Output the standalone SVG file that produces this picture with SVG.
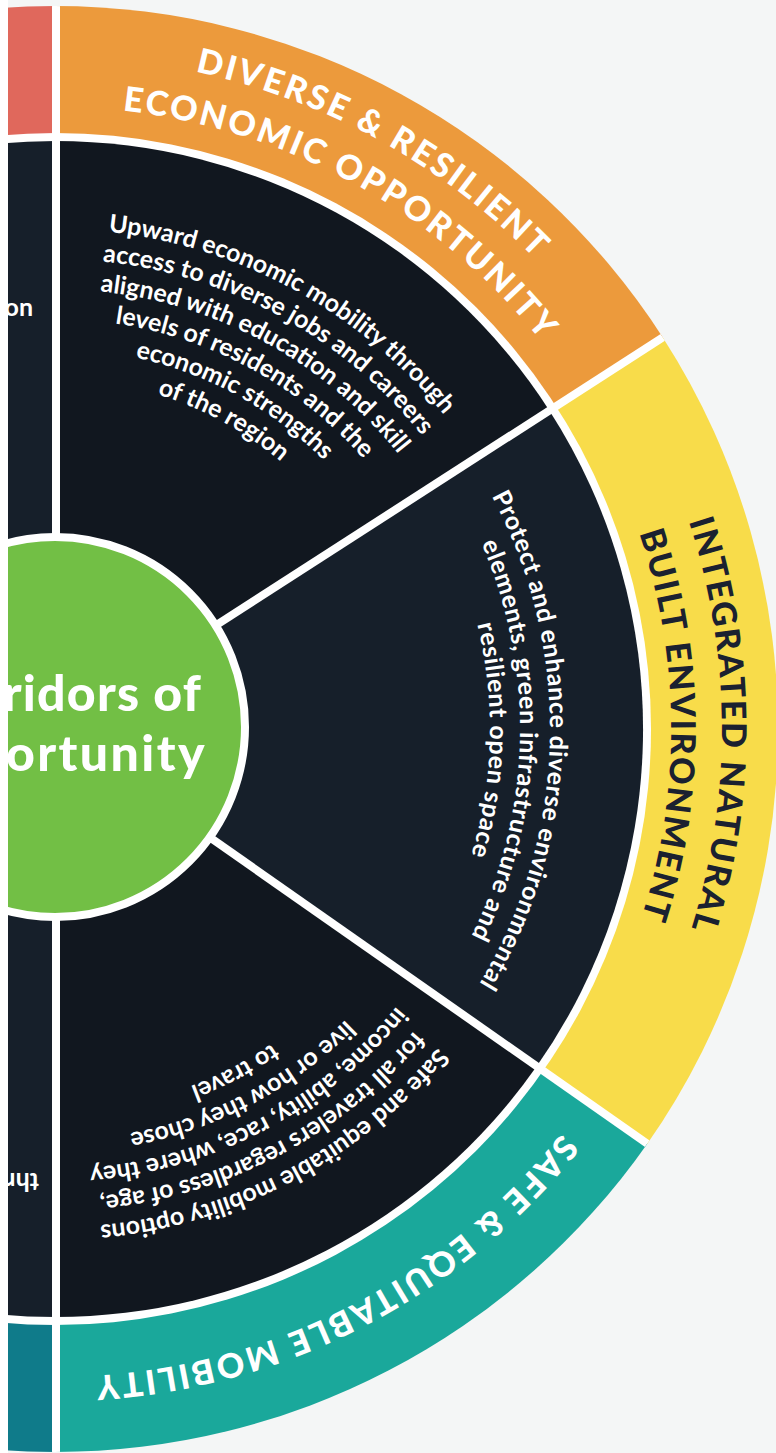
<svg xmlns="http://www.w3.org/2000/svg" width="776" height="1453" viewBox="0 0 776 1453">
<defs>
<style>
.ring{font-family:Lato,"Liberation Sans",sans-serif;font-weight:900;font-size:34px;letter-spacing:2.6px}
.w{fill:#fff}
.k{fill:#1b2130;letter-spacing:2.2px}
.body{font-family:Lato,"Liberation Sans",sans-serif;font-weight:700;font-size:25px;fill:#fff}
.hub{font-family:Lato,"Liberation Sans",sans-serif;font-weight:900;font-size:50px;fill:#fff;letter-spacing:1.2px}
.hub2{letter-spacing:2.4px}
.div{stroke:#fff;stroke-width:8;fill:none}
.d1{fill:#11171f}
.d2{fill:#161f2a}
</style>
<clipPath id="wheel"><circle cx="55" cy="729" r="723"/></clipPath>
<path id="a672" d="M-514.8 -432 A672 672 0 0 1 514.8 -432"/>
<path id="a622" d="M-476.5 -399.8 A622 622 0 0 1 476.5 -399.8"/>
<path id="a667" d="M-510.9 -428.7 A667 667 0 0 1 510.9 -428.7"/>
<path id="a616" d="M-471.9 -396 A616 616 0 0 1 471.9 -396"/>
<path id="a648" d="M-496.4 -416.5 A648 648 0 0 1 496.4 -416.5"/>
<path id="a500" d="M-383 -321.4 A500 500 0 0 1 383 -321.4"/>
<path id="a470" d="M-360 -302.1 A470 470 0 0 1 360 -302.1"/>
<path id="a440" d="M-337 -282.8 A440 440 0 0 1 337 -282.8"/>
<path id="a410" d="M-314.1 -263.5 A410 410 0 0 1 314.1 -263.5"/>
<path id="a380" d="M-291.1 -244.3 A380 380 0 0 1 291.1 -244.3"/>
<path id="a350" d="M-268.1 -225 A350 350 0 0 1 268.1 -225"/>
<path id="a495" d="M-379.2 -318.2 A495 495 0 0 1 379.2 -318.2"/>
<path id="a465" d="M-356.2 -298.9 A465 465 0 0 1 356.2 -298.9"/>
<path id="a435" d="M-333.2 -279.6 A435 435 0 0 1 333.2 -279.6"/>
<path id="a498" d="M-381.5 -320.1 A498 498 0 0 1 381.5 -320.1"/>
<path id="a469" d="M-359.3 -301.5 A469 469 0 0 1 359.3 -301.5"/>
<path id="a411" d="M-314.8 -264.2 A411 411 0 0 1 314.8 -264.2"/>
<path id="a382" d="M-292.6 -245.6 A382 382 0 0 1 292.6 -245.6"/>
</defs>

<rect id="background" x="0" y="0" width="776" height="1453" fill="#f4f6f6"/>

<g id="seg-red">
<path d="M55 729 L-668 729 A723 723 0 0 1 55 6 Z" fill="#e0685c"/>
</g>
<g id="seg-orange">
<path d="M55 729 L55 6 A723 723 0 0 1 662.8 337.4 Z" fill="#ec9a3c"/>
<text class="ring w" transform="translate(55 729) rotate(28.9)"><textPath href="#a672" startOffset="50%" text-anchor="middle">DIVERSE &amp; RESILIENT</textPath></text>
<text class="ring w" transform="translate(55 729) rotate(28.9)"><textPath href="#a622" startOffset="50%" text-anchor="middle">ECONOMIC OPPORTUNITY</textPath></text>
</g>
<g id="seg-yellow">
<path d="M55 729 L662.8 337.4 A723 723 0 0 1 647.3 1143.7 Z" fill="#f8dc4a"/>
<text class="ring k" transform="translate(55 729) rotate(89.7)"><textPath href="#a667" startOffset="50%" text-anchor="middle">INTEGRATED NATURAL</textPath></text>
<text class="ring k" transform="translate(55 729) rotate(89.7)"><textPath href="#a616" startOffset="50%" text-anchor="middle">BUILT ENVIRONMENT</textPath></text>
</g>
<g id="seg-teal">
<path d="M55 729 L647.3 1143.7 A723 723 0 0 1 55 1452 Z" fill="#1aa89b"/>
<text class="ring w" transform="translate(55 729) rotate(152.6)"><textPath href="#a648" startOffset="50%" text-anchor="middle">SAFE &amp; EQUITABLE MOBILITY</textPath></text>
</g>
<g id="seg-tealblue">
<path d="M55 729 L55 1452 A723 723 0 0 1 -668 729 Z" fill="#0f7b8a"/>
</g>

<circle id="ring-gap" cx="55" cy="729" r="596" fill="#fff"/>

<g id="inner-left">
<path class="d2" d="M55 729 L55 1317 A588 588 0 0 1 55 141 Z"/>
<text class="body" x="33" y="316" text-anchor="end">on</text>
<text class="body" transform="translate(39 1173) rotate(180)">thr</text>
</g>

<g id="inner-economic">
<path class="d1" d="M55 729 L55 141 A588 588 0 0 1 549.3 410.5 Z"/>
<g class="body" transform="translate(55 729) rotate(28.6)">
<text><textPath href="#a500" startOffset="50%" text-anchor="middle">Upward economic mobility through</textPath></text>
<text><textPath href="#a470" startOffset="50%" text-anchor="middle">access to diverse jobs and careers</textPath></text>
<text><textPath href="#a440" startOffset="50%" text-anchor="middle">aligned with education and skill</textPath></text>
<text><textPath href="#a410" startOffset="50%" text-anchor="middle">levels of residents and the</textPath></text>
<text><textPath href="#a380" startOffset="50%" text-anchor="middle">economic strengths</textPath></text>
<text><textPath href="#a350" startOffset="50%" text-anchor="middle">of the region</textPath></text>
</g>
</g>

<g id="inner-environment">
<path class="d2" d="M55 729 L549.3 410.5 A588 588 0 0 1 536.7 1066.3 Z"/>
<g class="body" transform="translate(55 729) rotate(91.5)" letter-spacing="0.7">
<text><textPath href="#a495" startOffset="50%" text-anchor="middle">Protect and enhance diverse environmental</textPath></text>
<text><textPath href="#a465" startOffset="50%" text-anchor="middle">elements, green infrastructure and</textPath></text>
<text><textPath href="#a435" startOffset="50%" text-anchor="middle">resilient open space</textPath></text>
</g>
</g>

<g id="inner-mobility">
<path class="d1" d="M55 729 L536.7 1066.3 A588 588 0 0 1 55 1317 Z"/>
<g class="body" transform="translate(55 729) rotate(152.3)">
<text><textPath href="#a498" startOffset="50%" text-anchor="middle">Safe and equitable mobility options</textPath></text>
<text><textPath href="#a469" startOffset="50%" text-anchor="middle">for all travelers regardless of age,</textPath></text>
<text><textPath href="#a440" startOffset="50%" text-anchor="middle">income, ability, race, where they</textPath></text>
<text><textPath href="#a411" startOffset="50%" text-anchor="middle">live or how they chose</textPath></text>
<text><textPath href="#a382" startOffset="50%" text-anchor="middle">to travel</textPath></text>
</g>
</g>

<g id="connectors" clip-path="url(#wheel)">
<line class="div" x1="56" y1="0" x2="56" y2="1453"/>
<line class="div" x1="55" y1="729" x2="662.8" y2="337.4"/>
<line class="div" x1="55" y1="729" x2="647.3" y2="1143.7"/>
</g>

<g id="hub">
<circle cx="55" cy="727" r="190" fill="#72bf45" stroke="#fff" stroke-width="8"/>
<text class="hub" x="202" y="711" text-anchor="end">ridors of</text>
<text class="hub hub2" x="207" y="771" text-anchor="end">ortunity</text>
</g>

<rect id="edge" x="0" y="0" width="8" height="1453" fill="#fff"/>
</svg>
